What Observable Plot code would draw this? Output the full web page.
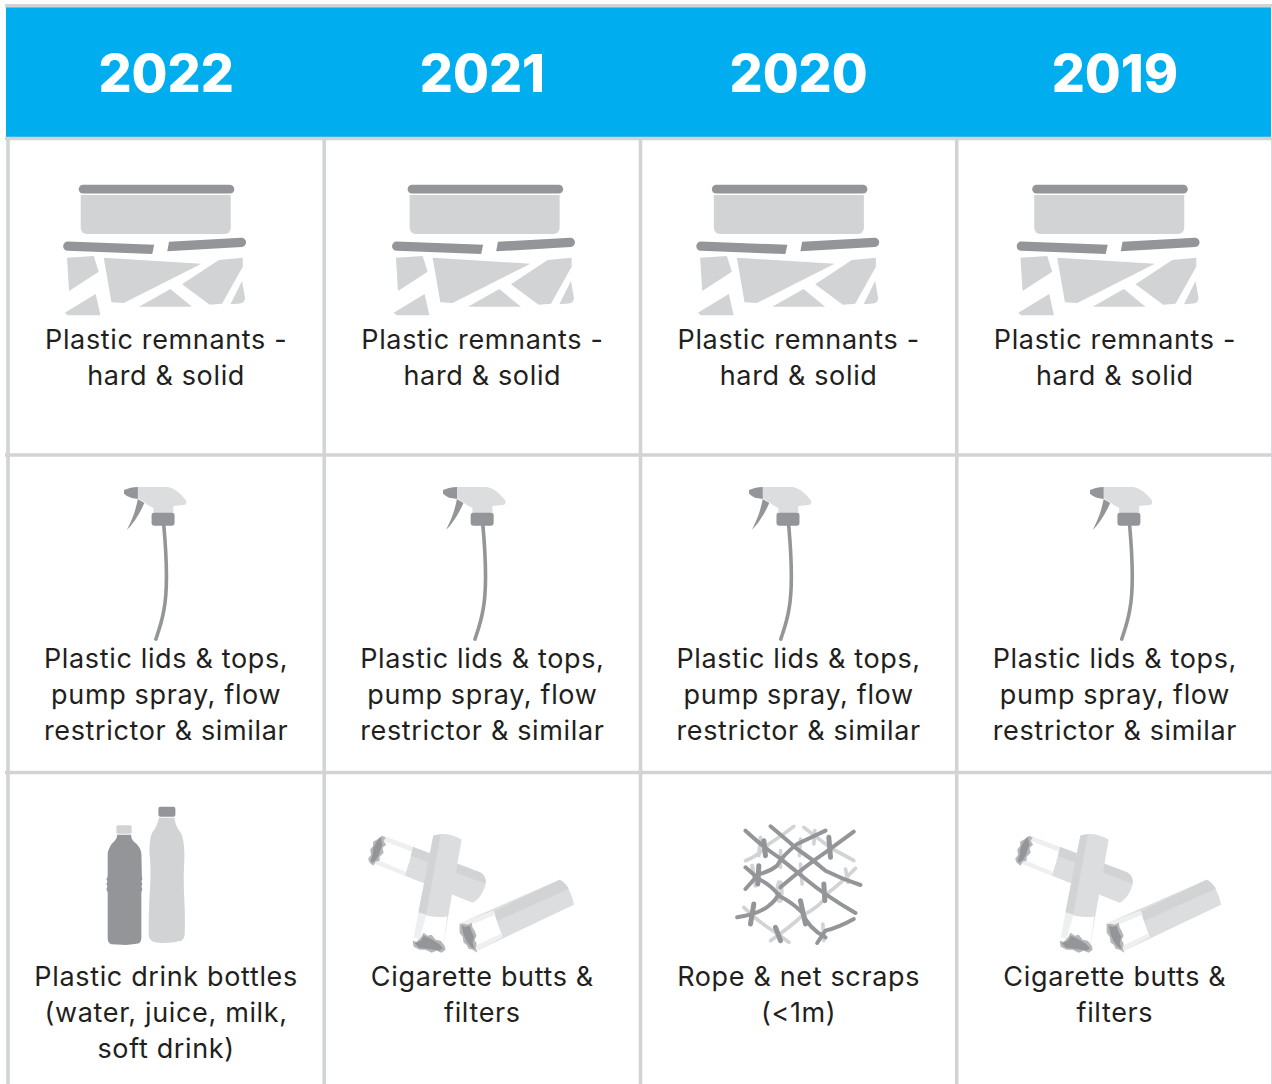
<!DOCTYPE html>
<html>
<head>
<meta charset="utf-8">
<script src="https://cdn.jsdelivr.net/npm/d3@7"></script>
<script src="https://cdn.jsdelivr.net/npm/@observablehq/plot@0.6"></script>
<style>
html,body{margin:0;padding:0;background:#fff;overflow:hidden}
svg text{font-family:Inter,sans-serif}
.lab text,text.lab{letter-spacing:.65px}
</style>
</head>
<body>
<div id="chart"></div>
<script>
// ---- table content ----
const years = ["2022", "2021", "2020", "2019"];
const row1 = ["Plastic remnants -\nhard & solid", "Plastic remnants -\nhard & solid", "Plastic remnants -\nhard & solid", "Plastic remnants -\nhard & solid"];
const row2 = ["Plastic lids & tops,\npump spray, flow\nrestrictor & similar", "Plastic lids & tops,\npump spray, flow\nrestrictor & similar", "Plastic lids & tops,\npump spray, flow\nrestrictor & similar", "Plastic lids & tops,\npump spray, flow\nrestrictor & similar"];
const row3 = ["Plastic drink bottles\n(water, juice, milk,\nsoft drink)", "Cigarette butts &\nfilters", "Rope & net scraps\n(<1m)", "Cigarette butts &\nfilters"];
const iconRow1 = ["tub", "tub", "tub", "tub"];
const iconRow2 = ["spray", "spray", "spray", "spray"];
const iconRow3 = ["bottles", "butts", "net", "butts"];

// ---- palette ----
const BLUE = "#00aeef", GRAY = "#d1d3d4", DARK = "#939598", LIGHT = "#dcddde", INK = "#231f20", PALE = "#eeeff0", MID = "#b5b7b9";

// ---- icon glyphs: [viewBox x, y, w, h, svg body] in the glyph's own units ----
const glyphs = {
  tub: [63, 184, 184, 133, `
    <rect x="79" y="184.7" width="155.5" height="8.8" rx="4.4" fill="${DARK}"/>
    <path d="M81 195H231V228a6 6 0 0 1-6 6H87a6 6 0 0 1-6-6Z" fill="${GRAY}"/>
    <path d="M68 241.5L154.5 244.7L152.5 254L68 250.7a4.6 4.6 0 0 1 0-9.2Z" fill="${DARK}"/>
    <path d="M169.3 241.7L241.5 237.7a4.6 4.6 0 0 1 .5 9.2L167.5 251.3Z" fill="${DARK}"/>
    <g fill="${GRAY}">
    <path d="M67.3 257.7L94 256L99 271.7L69.3 291Z"/>
    <path d="M65 312.7L96 294L100.7 315.3H68Z"/>
    <path d="M104 257.7L201.7 263.7L124 303L111.7 302.3Z"/>
    <path d="M139.3 306.7L170.7 289L192.3 306.7Z"/>
    <path d="M182.3 284.3L219 260L243 257.7V266.7L222.3 303.7L210 304.7Z"/>
    <path d="M230.7 304.3L242.3 281L245.3 298Q245 303 240 303.5Z"/>
    </g>`],
  spray: [124, 486, 63, 155, `
    <path d="M164 526C167 560 168 590 164 610C162 622 159 630 156 639" fill="none" stroke="${DARK}" stroke-width="3.6" stroke-linecap="round"/>
    <path d="M138 487H168Q176 488 186 500Q188 504 184 505L173.5 506V512H153.5V508Q147 505 144 502L138 498Z" fill="${LIGHT}"/>
    <path d="M124 490L130 488Q134 487 138 487V499L132 498Q126 496 124 493Z" fill="${DARK}"/>
    <path d="M138 499L144.5 503Q137 520 127 530Q133 518 135 511Q137 504 138 499Z" fill="${DARK}"/>
    <rect x="151.7" y="512.3" width="23" height="13.4" rx="3" fill="${DARK}"/>`],
  bottles: [105, 805, 81, 141, `
    <rect x="158" y="806.3" width="17" height="10" rx="2" fill="${DARK}"/>
    <path d="M158.5 817.5H174Q175 826 180 832Q184 838 184 858Q183 875 183.5 890Q185 915 184.3 935Q183 941 178 941Q172 943 166.7 942.3Q160 943 155 942Q149 941 148.3 935Q148 915 149.5 890Q151 870 149 851.7Q149 838 152 832Q157 826 158.5 817.5Z" fill="${GRAY}"/>
    <rect x="116" y="825" width="15.3" height="8.5" rx="1.5" fill="${GRAY}"/>
    <path d="M116.7 834.3H130.7Q130.5 838 133 841Q140 846 141 853L141.5 876L142 879L141 881L142 884L141 886L142 889L141 892V938Q140.5 943.5 136 943.5Q128 945 122 944.5L111 944Q107.5 943 107.3 938V892L106 889L107 886L106 884L107 881L106 879L107.3 876V853Q109 845 114 841Q117 838 116.7 834.3Z" fill="${DARK}"/>`],
  butts: [367, 832, 208, 122, `
    <path d="M381.7 835.7L478 872C484 874 486 879 485 884C483 893 478 900 472 903L372 863Z" fill="${LIGHT}"/>
    <path d="M412 847L478 872C483 874 485 878 485 884L410 856Z" fill="${GRAY}"/>
    <path d="M381.7 835.7L412 847Q410 860 404 876L372 863Z" fill="#fff"/>
    <path d="M381.7 835.7L412 847L411 852L380 840Z" fill="${PALE}"/>
    <path d="M374 859L405 872L404 876L372 863Z" fill="${PALE}"/>
    <path d="M381.5 836L385 838L383 841L385.5 845L382 848L383 853L379 857L379 861L375 862L373 866L369 863L367.5 859L370.5 855L369.5 850L372.5 846L372.5 842L376 840Z" fill="${MID}"/>
    <path d="M380 837L381.7 845L378.3 855L375.5 860L371.7 863L370 861L372 855L372.7 848.3L376 842Z" fill="${DARK}"/>
    <path d="M432.7 836C440 833 452 834 461 840L442.3 946.7L413.3 937.3Z" fill="${LIGHT}"/>
    <path d="M432.7 836Q436 835 440 835L425.7 914L417.7 912.7Z" fill="${GRAY}"/>
    <path d="M417.7 912.7Q432 919 446.7 916.7L442.3 946.7L413.3 937.3Z" fill="#fff"/>
    <path d="M417.7 912.7L425.7 915L419 939L413.3 937.3Z" fill="${PALE}"/>
    <path d="M412 941L416 942L420 938L423 933L427 936L431 935L435 940L440 941L444 946L445 950L441 953L436 951L431 953L425 950L419 950L413 947Z" fill="${MID}"/>
    <path d="M414 943.5L420 941L423.3 936L430 939L438.3 944L442.3 948.5L439 950.7L430 949.5L418.3 948Z" fill="${DARK}"/>
    <path d="M460 923.3L559 880C566 884 572 895 573.3 905L475 951.7Z" fill="${LIGHT}"/>
    <path d="M490 913.3L559 880Q564 882 568.3 889L495 921.7Z" fill="${GRAY}"/>
    <path d="M460 923.3L493 911Q497 925 502 937L475 951.7Z" fill="#fff"/>
    <path d="M460 923.3L493 911L495 915L463 928Z" fill="${PALE}"/>
    <path d="M473 947L500 934L502 937L475 951.7Z" fill="${PALE}"/>
    <path d="M459 924L463 924L467 925L471 923L472 928L474 931L476 936L474 940L476 944L475 949L477 953L472 950L468 949L466 945L463 943L462 937L459 933Z" fill="${MID}"/>
    <path d="M461 926L465 927L469 926L471 932L473.5 936.7L472 943.3L474 949.5L470 947L466 941.7L463 935Z" fill="${DARK}"/>`],
  net: [0, 0, 435, 405, `
    <g fill="none" stroke-linecap="round" stroke-linejoin="round" stroke-width="11">
    <g stroke="${GRAY}">
    <path d="M60 135Q100 120 130 85Q170 60 205 32"/>
    <path d="M235 35Q280 70 320 100Q360 120 385 135"/>
    <path d="M55 275Q100 320 150 350Q170 365 190 380"/>
    <path d="M135 375Q200 330 230 300Q290 270 310 230Q350 200 390 158"/>
    <path d="M105 65L100 120M225 70L222 120M165 105L165 155M225 145L230 205M360 160L368 200M292 325L295 375M268 45L265 85"/>
    <path d="M80 150L90 210M160 200Q150 230 160 255M165 200Q172 230 165 255" stroke-width="12"/>
    </g>
    <g stroke="${DARK}">
    <path d="M60 45Q120 100 160 125Q210 165 240 190Q300 240 390 292" stroke-width="12"/>
    <path d="M135 32Q180 70 215 100Q260 130 300 165Q350 190 405 208" stroke-width="12"/>
    <path d="M385 48L300 110Q240 150 165 215" stroke-width="12"/>
    <path d="M300 45L215 85Q170 120 155 150Q130 170 100 175L60 220" stroke-width="12"/>
    <path d="M60 155L100 190Q140 210 160 240Q200 260 230 290Q250 340 300 365" stroke-width="12"/>
    <path d="M35 305Q100 295 130 270Q150 255 160 235" stroke-width="12"/>
    <path d="M385 310Q340 335 300 345L275 382" stroke-width="12"/>
    <path d="M115 75L120 120M310 65L315 125M100 150L97 205M85 265L75 325M150 335L165 375M225 255L240 325M295 205L298 255" stroke-width="15"/>
    </g></g>`]
};
const glyphHref = name => {
  const [x, y, w, h, body] = glyphs[name];
  return "data:image/svg+xml;utf8," + encodeURIComponent(
    `<svg xmlns="http://www.w3.org/2000/svg" viewBox="${x} ${y} ${w} ${h}" width="${w}" height="${h}">${body}</svg>`);
};
// drawn size of each glyph on the page
const glyphSize = {tub: [184, 133], spray: [63, 155], bottles: [81, 141], butts: [208, 122], net: [145, 135]};
// where each glyph sits, as a share of its cell (the artwork is not centred in its cell)
const glyphAt = {
  "tub0": [.464, .354, 1], "tub1": [.504, .354, 1], "tub2": [.466, .354, 1], "tub3": [.479, .354, 1],
  "spray0": [.466, .342, 2], "spray1": [.475, .342, 2], "spray2": [.442, .342, 2], "spray3": [.520, .342, 2],
  "bottles0": [.436, .325, 3], "butts1": [.466, .378, 3], "net2": [.498, .348, 3], "butts3": [.512, .378, 3]
};
const labelTop = [null, .583, .589, .592];

// ---- tables built from the lists above ----
const cells = [row1, row2, row3].flatMap((labels, r) =>
  labels.map((text, c) => ({c, r: r + 1, text})));
const icons = [iconRow1, iconRow2, iconRow3].flatMap(list =>
  list.map((name, c) => {
    const [fx, fy, r] = glyphAt[name + c];
    return {name, x: c + fx, y: r + fy, href: glyphHref(name)};
  }));
const byGlyph = d3.group(icons, d => d.name);

const plot = Plot.plot({
  width: 1272, height: 1084,
  marginTop: 0, marginRight: 0, marginBottom: 0, marginLeft: 0,
  x: {type: "linear", domain: [0, 4], range: [7.5, 1272.5], axis: null},
  y: {type: "linear", domain: [0, 1, 2, 3, 4], range: [5.3, 138, 454.5, 772, 1090], axis: null},
  marks: [
    Plot.rect([years], {x1: 0, x2: 4, y1: 0, y2: 1, fill: BLUE, insetLeft: -1.5, insetRight: 1.5}),
    Plot.ruleY([0, 1, 2, 3], {x1: -0.008, x2: 4, stroke: GRAY, strokeWidth: 3.6}),
    Plot.ruleX([0, 1, 2, 3, 4], {y1: 1, y2: 4, stroke: GRAY, strokeWidth: 3.6}),
    Plot.text(years, {
      x: (_, i) => i + 0.5, y: 0.5, dy: 3, text: d => d,
      fill: "#fff", fontSize: 52, fontWeight: 800, lineAnchor: "middle"
    }),
    ...[...byGlyph].map(([name, list]) => Plot.image(list, {
      x: "x", y: "y", src: "href",
      width: glyphSize[name][0], height: glyphSize[name][1],
      preserveAspectRatio: "none"
    })),
    Plot.text(cells, {
      x: d => d.c + 0.5, y: d => d.r + labelTop[d.r], text: "text",
      fill: INK, fontSize: 27, fontWeight: 400, lineAnchor: "top",
      lineHeight: 36 / 27, textAnchor: "middle", className: "lab"
    })
  ]
});
document.getElementById("chart").appendChild(plot);
</script>
</body>
</html>
